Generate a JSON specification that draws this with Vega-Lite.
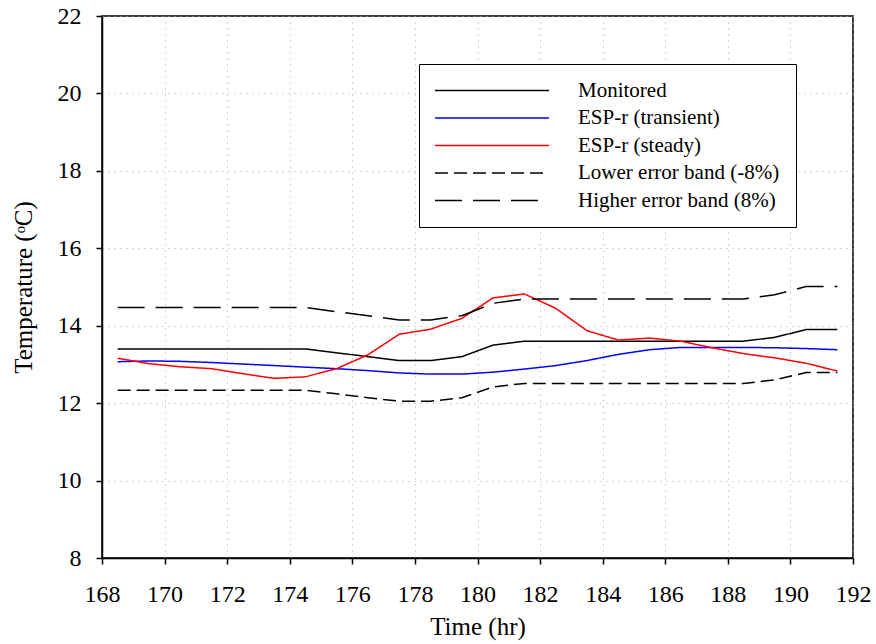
{
  "$schema": "https://vega.github.io/schema/vega-lite/v6.json",
  "autosize": "none",
  "width": 751,
  "height": 542,
  "padding": {"left": 102, "top": 16, "right": 23, "bottom": 86},
  "background": "white",
  "config": {
    "view": {"stroke": "black", "strokeWidth": 1.5},
    "font": "Liberation Serif",
    "axis": {
      "labelFont": "Liberation Serif",
      "labelFontSize": 24,
      "labelColor": "black",
      "labelFlush": false,
      "labelOverlap": false,
      "titleFont": "Liberation Serif",
      "titleFontSize": 25,
      "titleFontWeight": "normal",
      "titleColor": "black",
      "domainColor": "black",
      "domainWidth": 1.5,
      "tickColor": "black",
      "tickWidth": 1.5,
      "tickSize": 6,
      "grid": true,
      "gridColor": "#a8a8a8",
      "gridDash": [1, 5],
      "gridWidth": 1
    },
    "legend": {
      "labelFont": "Liberation Serif",
      "labelFontSize": 21,
      "labelColor": "black",
      "labelLimit": 400
    }
  },
  "data": {
    "values": [
      {"t": 168.5, "series": "Monitored", "temp": 13.4},
      {"t": 169.5, "series": "Monitored", "temp": 13.4},
      {"t": 170.5, "series": "Monitored", "temp": 13.4},
      {"t": 171.5, "series": "Monitored", "temp": 13.4},
      {"t": 172.5, "series": "Monitored", "temp": 13.4},
      {"t": 173.5, "series": "Monitored", "temp": 13.4},
      {"t": 174.5, "series": "Monitored", "temp": 13.4},
      {"t": 175.5, "series": "Monitored", "temp": 13.3},
      {"t": 176.5, "series": "Monitored", "temp": 13.2},
      {"t": 177.5, "series": "Monitored", "temp": 13.1},
      {"t": 178.5, "series": "Monitored", "temp": 13.1},
      {"t": 179.5, "series": "Monitored", "temp": 13.2},
      {"t": 180.5, "series": "Monitored", "temp": 13.5},
      {"t": 181.5, "series": "Monitored", "temp": 13.6},
      {"t": 182.5, "series": "Monitored", "temp": 13.6},
      {"t": 183.5, "series": "Monitored", "temp": 13.6},
      {"t": 184.5, "series": "Monitored", "temp": 13.6},
      {"t": 185.5, "series": "Monitored", "temp": 13.6},
      {"t": 186.5, "series": "Monitored", "temp": 13.6},
      {"t": 187.5, "series": "Monitored", "temp": 13.6},
      {"t": 188.5, "series": "Monitored", "temp": 13.6},
      {"t": 189.5, "series": "Monitored", "temp": 13.7},
      {"t": 190.5, "series": "Monitored", "temp": 13.9},
      {"t": 191.5, "series": "Monitored", "temp": 13.9},

      {"t": 168.5, "series": "ESP-r (transient)", "temp": 13.07},
      {"t": 169.5, "series": "ESP-r (transient)", "temp": 13.09},
      {"t": 170.5, "series": "ESP-r (transient)", "temp": 13.08},
      {"t": 171.5, "series": "ESP-r (transient)", "temp": 13.05},
      {"t": 172.5, "series": "ESP-r (transient)", "temp": 13.01},
      {"t": 173.5, "series": "ESP-r (transient)", "temp": 12.97},
      {"t": 174.5, "series": "ESP-r (transient)", "temp": 12.93},
      {"t": 175.5, "series": "ESP-r (transient)", "temp": 12.89},
      {"t": 176.5, "series": "ESP-r (transient)", "temp": 12.84},
      {"t": 177.5, "series": "ESP-r (transient)", "temp": 12.78},
      {"t": 178.5, "series": "ESP-r (transient)", "temp": 12.75},
      {"t": 179.5, "series": "ESP-r (transient)", "temp": 12.75},
      {"t": 180.5, "series": "ESP-r (transient)", "temp": 12.8},
      {"t": 181.5, "series": "ESP-r (transient)", "temp": 12.88},
      {"t": 182.5, "series": "ESP-r (transient)", "temp": 12.97},
      {"t": 183.5, "series": "ESP-r (transient)", "temp": 13.1},
      {"t": 184.5, "series": "ESP-r (transient)", "temp": 13.26},
      {"t": 185.5, "series": "ESP-r (transient)", "temp": 13.38},
      {"t": 186.5, "series": "ESP-r (transient)", "temp": 13.44},
      {"t": 187.5, "series": "ESP-r (transient)", "temp": 13.44},
      {"t": 188.5, "series": "ESP-r (transient)", "temp": 13.44},
      {"t": 189.5, "series": "ESP-r (transient)", "temp": 13.43},
      {"t": 190.5, "series": "ESP-r (transient)", "temp": 13.41},
      {"t": 191.5, "series": "ESP-r (transient)", "temp": 13.38},

      {"t": 168.5, "series": "ESP-r (steady)", "temp": 13.16},
      {"t": 169.5, "series": "ESP-r (steady)", "temp": 13.02},
      {"t": 170.5, "series": "ESP-r (steady)", "temp": 12.94},
      {"t": 171.5, "series": "ESP-r (steady)", "temp": 12.89},
      {"t": 172.5, "series": "ESP-r (steady)", "temp": 12.76},
      {"t": 173.5, "series": "ESP-r (steady)", "temp": 12.64},
      {"t": 174.5, "series": "ESP-r (steady)", "temp": 12.68},
      {"t": 175.5, "series": "ESP-r (steady)", "temp": 12.89},
      {"t": 176.5, "series": "ESP-r (steady)", "temp": 13.25},
      {"t": 177.5, "series": "ESP-r (steady)", "temp": 13.78},
      {"t": 178.5, "series": "ESP-r (steady)", "temp": 13.91},
      {"t": 179.5, "series": "ESP-r (steady)", "temp": 14.19},
      {"t": 180.5, "series": "ESP-r (steady)", "temp": 14.72},
      {"t": 181.5, "series": "ESP-r (steady)", "temp": 14.82},
      {"t": 182.5, "series": "ESP-r (steady)", "temp": 14.45},
      {"t": 183.5, "series": "ESP-r (steady)", "temp": 13.87},
      {"t": 184.5, "series": "ESP-r (steady)", "temp": 13.63},
      {"t": 185.5, "series": "ESP-r (steady)", "temp": 13.68},
      {"t": 186.5, "series": "ESP-r (steady)", "temp": 13.6},
      {"t": 187.5, "series": "ESP-r (steady)", "temp": 13.43},
      {"t": 188.5, "series": "ESP-r (steady)", "temp": 13.28},
      {"t": 189.5, "series": "ESP-r (steady)", "temp": 13.17},
      {"t": 190.5, "series": "ESP-r (steady)", "temp": 13.03},
      {"t": 191.5, "series": "ESP-r (steady)", "temp": 12.83},

      {"t": 168.5, "series": "Lower error band (-8%)", "temp": 12.33},
      {"t": 169.5, "series": "Lower error band (-8%)", "temp": 12.33},
      {"t": 170.5, "series": "Lower error band (-8%)", "temp": 12.33},
      {"t": 171.5, "series": "Lower error band (-8%)", "temp": 12.33},
      {"t": 172.5, "series": "Lower error band (-8%)", "temp": 12.33},
      {"t": 173.5, "series": "Lower error band (-8%)", "temp": 12.33},
      {"t": 174.5, "series": "Lower error band (-8%)", "temp": 12.33},
      {"t": 175.5, "series": "Lower error band (-8%)", "temp": 12.24},
      {"t": 176.5, "series": "Lower error band (-8%)", "temp": 12.14},
      {"t": 177.5, "series": "Lower error band (-8%)", "temp": 12.05},
      {"t": 178.5, "series": "Lower error band (-8%)", "temp": 12.05},
      {"t": 179.5, "series": "Lower error band (-8%)", "temp": 12.14},
      {"t": 180.5, "series": "Lower error band (-8%)", "temp": 12.42},
      {"t": 181.5, "series": "Lower error band (-8%)", "temp": 12.51},
      {"t": 182.5, "series": "Lower error band (-8%)", "temp": 12.51},
      {"t": 183.5, "series": "Lower error band (-8%)", "temp": 12.51},
      {"t": 184.5, "series": "Lower error band (-8%)", "temp": 12.51},
      {"t": 185.5, "series": "Lower error band (-8%)", "temp": 12.51},
      {"t": 186.5, "series": "Lower error band (-8%)", "temp": 12.51},
      {"t": 187.5, "series": "Lower error band (-8%)", "temp": 12.51},
      {"t": 188.5, "series": "Lower error band (-8%)", "temp": 12.51},
      {"t": 189.5, "series": "Lower error band (-8%)", "temp": 12.6},
      {"t": 190.5, "series": "Lower error band (-8%)", "temp": 12.79},
      {"t": 191.5, "series": "Lower error band (-8%)", "temp": 12.79},

      {"t": 168.5, "series": "Higher error band (8%)", "temp": 14.47},
      {"t": 169.5, "series": "Higher error band (8%)", "temp": 14.47},
      {"t": 170.5, "series": "Higher error band (8%)", "temp": 14.47},
      {"t": 171.5, "series": "Higher error band (8%)", "temp": 14.47},
      {"t": 172.5, "series": "Higher error band (8%)", "temp": 14.47},
      {"t": 173.5, "series": "Higher error band (8%)", "temp": 14.47},
      {"t": 174.5, "series": "Higher error band (8%)", "temp": 14.47},
      {"t": 175.5, "series": "Higher error band (8%)", "temp": 14.36},
      {"t": 176.5, "series": "Higher error band (8%)", "temp": 14.26},
      {"t": 177.5, "series": "Higher error band (8%)", "temp": 14.15},
      {"t": 178.5, "series": "Higher error band (8%)", "temp": 14.15},
      {"t": 179.5, "series": "Higher error band (8%)", "temp": 14.26},
      {"t": 180.5, "series": "Higher error band (8%)", "temp": 14.58},
      {"t": 181.5, "series": "Higher error band (8%)", "temp": 14.69},
      {"t": 182.5, "series": "Higher error band (8%)", "temp": 14.69},
      {"t": 183.5, "series": "Higher error band (8%)", "temp": 14.69},
      {"t": 184.5, "series": "Higher error band (8%)", "temp": 14.69},
      {"t": 185.5, "series": "Higher error band (8%)", "temp": 14.69},
      {"t": 186.5, "series": "Higher error band (8%)", "temp": 14.69},
      {"t": 187.5, "series": "Higher error band (8%)", "temp": 14.69},
      {"t": 188.5, "series": "Higher error band (8%)", "temp": 14.69},
      {"t": 189.5, "series": "Higher error band (8%)", "temp": 14.8},
      {"t": 190.5, "series": "Higher error band (8%)", "temp": 15.01},
      {"t": 191.5, "series": "Higher error band (8%)", "temp": 15.01}
    ]
  },
  "mark": {"type": "line", "strokeWidth": 1.5},
  "encoding": {
    "x": {
      "field": "t",
      "type": "quantitative",
      "scale": {"domain": [168, 192], "nice": false, "zero": false},
      "axis": {
        "title": "Time (hr)",
        "values": [168, 170, 172, 174, 176, 178, 180, 182, 184, 186, 188, 190, 192],
        "labelPadding": 18,
        "titlePadding": 8
      }
    },
    "y": {
      "field": "temp",
      "type": "quantitative",
      "scale": {"domain": [8, 22], "nice": false, "zero": false},
      "axis": {
        "title": "Temperature (ᵒC)",
        "values": [8, 10, 12, 14, 16, 18, 20, 22],
        "labelPadding": 15,
        "titlePadding": 21
      }
    },
    "color": {
      "field": "series",
      "type": "nominal",
      "scale": {
        "domain": ["Monitored", "ESP-r (transient)", "ESP-r (steady)", "Lower error band (-8%)", "Higher error band (8%)"],
        "range": ["#000000", "#0000ff", "#ff0000", "#000000", "#000000"]
      },
      "legend": {
        "title": null,
        "orient": "none",
        "legendX": 317,
        "legendY": 48,
        "symbolType": "M-6,0H6",
        "symbolSize": 361,
        "symbolStrokeWidth": 1.5,
        "symbolOffset": 46.5,
        "labelOffset": 75.5,
        "padding": 16,
        "rowPadding": 5.5,
        "strokeColor": "black",
        "fillColor": "white"
      }
    },
    "strokeDash": {
      "field": "series",
      "type": "nominal",
      "scale": {
        "domain": ["Monitored", "ESP-r (transient)", "ESP-r (steady)", "Lower error band (-8%)", "Higher error band (8%)"],
        "range": [[1, 0], [1, 0], [1, 0], [13, 6], [27, 11]]
      },
      "legend": {
        "title": null,
        "orient": "none",
        "legendX": 317,
        "legendY": 48,
        "symbolType": "M-6,0H6",
        "symbolSize": 361,
        "symbolStrokeWidth": 1.5,
        "symbolOffset": 46.5,
        "labelOffset": 75.5,
        "padding": 16,
        "rowPadding": 5.5,
        "strokeColor": "black",
        "fillColor": "white"
      }
    }
  }
}
